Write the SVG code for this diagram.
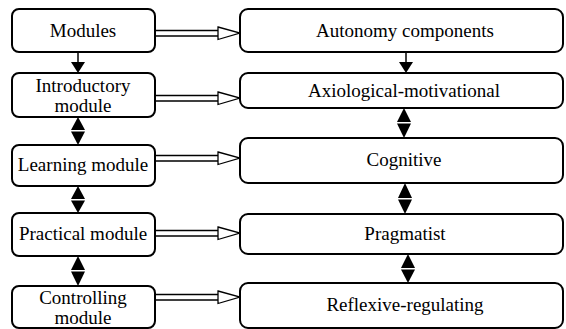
<svg xmlns="http://www.w3.org/2000/svg" width="566" height="329" viewBox="0 0 566 329">
<style>
.box{fill:#fff;stroke:#000;stroke-width:2}
.t{font-family:'Liberation Serif','Tinos','Times New Roman','Times','Nimbus Roman','Nimbus Roman No9 L','FreeSerif','Noto Serif','DejaVu Serif',serif;font-size:19px;fill:#000;text-anchor:middle}
.dl{stroke:#000;stroke-width:1.5;fill:none}
.oh{fill:#fff;stroke:#000;stroke-width:1.3}
.fh{fill:#000;stroke:none}
.ln{stroke:#000;stroke-width:1.5}
</style>
<rect width="566" height="329" fill="#fff"/>
<g id="connectors">
  <g id="h1"><path class="dl" d="M155 30.5H219M155 36H219"/><path class="oh" d="M218 27L240 33L218 39.5Z"/></g>
  <g id="h2"><path class="dl" d="M155 95.5H219M155 101H219"/><path class="oh" d="M218 92L240 98L218 104.5Z"/></g>
  <g id="h3"><path class="dl" d="M155 155.5H219M155 161H219"/><path class="oh" d="M218 152L240 158L218 164.5Z"/></g>
  <g id="h4"><path class="dl" d="M155 230.5H219M155 236H219"/><path class="oh" d="M218 227L240 233L218 239.5Z"/></g>
  <g id="h5"><path class="dl" d="M155 294.5H219M155 300H219"/><path class="oh" d="M218 291L240 297L218 303.5Z"/></g>
  <g id="v1"><line class="ln" x1="78" y1="52" x2="78" y2="63"/><path class="fh" d="M71 62H85L78 73Z"/></g>
  <g id="v2"><path class="fh" d="M78 117L85 130H71Z"/><path class="fh" d="M71 131.5H85L78 145Z"/></g>
  <g id="v3"><path class="fh" d="M78 186L85 199H71Z"/><path class="fh" d="M71 200.5H85L78 213Z"/></g>
  <g id="v4"><path class="fh" d="M78 256L85 270H71Z"/><path class="fh" d="M71 271.5H85L78 286Z"/></g>
  <g id="v5"><line class="ln" x1="406" y1="52" x2="406" y2="63"/><path class="fh" d="M399 62H413L406 73Z"/></g>
  <g id="v6"><path class="fh" d="M404 108L411 122H397Z"/><path class="fh" d="M397 123.5H411L404 138Z"/></g>
  <g id="v7"><path class="fh" d="M405 183L412 198H398Z"/><path class="fh" d="M398 199.5H412L405 214Z"/></g>
  <g id="v8"><path class="fh" d="M408 254L415 268H401Z"/><path class="fh" d="M401 269.5H415L408 283Z"/></g>
</g>
<g id="modules"><rect class="box" x="12" y="9" width="143" height="43" rx="7"/><text class="t" x="83" y="37">Modules</text></g>
<g id="introductory"><rect class="box" x="12" y="73" width="143" height="44" rx="7"/><text class="t" x="83" y="92">Introductory</text><text class="t" x="83" y="112">module</text></g>
<g id="learning"><rect class="box" x="12" y="145" width="143" height="41" rx="7"/><text class="t" x="83" y="171">Learning module</text></g>
<g id="practical"><rect class="box" x="12" y="213" width="143" height="43" rx="7"/><text class="t" x="83" y="240">Practical module</text></g>
<g id="controlling"><rect class="box" x="12" y="286" width="143" height="42" rx="7"/><text class="t" x="83" y="304">Controlling</text><text class="t" x="83" y="324">module</text></g>
<g id="autonomy"><rect class="box" x="240" y="9" width="323" height="43" rx="8"/><text class="t" x="405" y="37">Autonomy components</text></g>
<g id="axiological"><rect class="box" x="240" y="73" width="323" height="35" rx="8"/><text class="t" x="404" y="97">Axiological-motivational</text></g>
<g id="cognitive"><rect class="box" x="240" y="138" width="323" height="45" rx="8"/><text class="t" x="404" y="166">Cognitive</text></g>
<g id="pragmatist"><rect class="box" x="240" y="214" width="323" height="40" rx="8"/><text class="t" x="405" y="240">Pragmatist</text></g>
<g id="reflexive"><rect class="box" x="240" y="283" width="323" height="45" rx="8"/><text class="t" x="405" y="311">Reflexive-regulating</text></g>
</svg>
